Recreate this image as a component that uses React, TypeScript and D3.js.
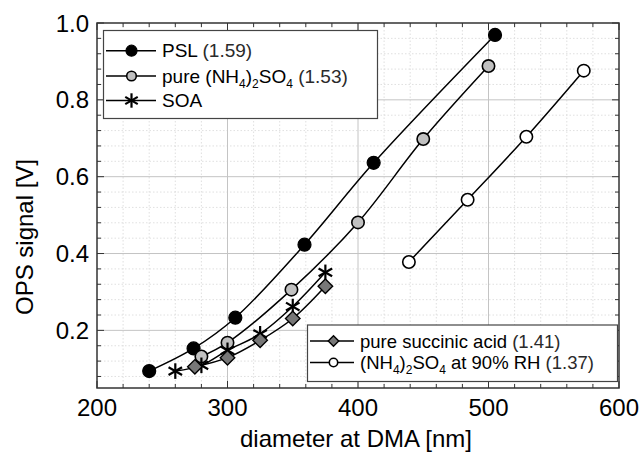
import React from "react";
import * as d3 from "d3";

const W = 641;
const H = 452;
const M = { left: 97, right: 619, top: 23, bottom: 388 };

const xDomain = [200, 600];
const yDomain = [0.05, 1.0];
const xMajorTicks = [200, 300, 400, 500, 600];
const yMajorTicks = [0.2, 0.4, 0.6, 0.8, 1.0];
const yTickLabels = ["0.2", "0.4", "0.6", "0.8", "1.0"];

const pslX = [240, 274, 306, 359, 412, 505];
const pslY = [0.094, 0.153, 0.233, 0.423, 0.636, 0.969];
const pureX = [280, 300, 349, 400, 450, 500];
const pureY = [0.132, 0.168, 0.306, 0.481, 0.698, 0.888];
const soaX = [260, 280, 300, 325, 350, 375];
const soaY = [0.094, 0.109, 0.148, 0.191, 0.262, 0.351];
const succX = [275, 300, 325, 350, 375];
const succY = [0.105, 0.129, 0.174, 0.231, 0.315];
const rhX = [439, 484, 529, 573];
const rhY = [0.378, 0.54, 0.704, 0.876];

const FONT = "'Liberation Sans', Arial, Helvetica, sans-serif";

type Seg = { t: string; sub?: boolean; light?: boolean };

function Label({ x, y, segs, size }: { x: number; y: number; segs: Seg[]; size: number }) {
  const out: any[] = [];
  let prevSub = false;
  segs.forEach((s, i) => {
    let dy = 0;
    if (s.sub && !prevSub) dy = 5;
    else if (!s.sub && prevSub) dy = -5;
    prevSub = !!s.sub;
    out.push(
      <tspan
        key={i}
        dy={dy}
        fontSize={s.sub ? 12 : size}
        fill={s.light ? "#2a2a2a" : "#000"}
      >
        {s.t}
      </tspan>
    );
  });
  return (
    <text x={x} y={y} fontFamily={FONT} fontSize={size} xmlSpace="preserve">
      {out}
    </text>
  );
}

function Marker({ kind, x, y, r }: { kind: string; x: number; y: number; r: number }) {
  if (kind === "psl") return <circle cx={x} cy={y} r={r} fill="#000" stroke="#000" strokeWidth={1.2} />;
  if (kind === "pure") return <circle cx={x} cy={y} r={r} fill="#c0c0c0" stroke="#000" strokeWidth={1.6} />;
  if (kind === "rh") return <circle cx={x} cy={y} r={r} fill="#fff" stroke="#000" strokeWidth={1.6} />;
  if (kind === "succ") {
    const s = r * 1.25;
    return (
      <path
        d={`M${x},${y - s}L${x + s},${y}L${x},${y + s}L${x - s},${y}Z`}
        fill="#777"
        stroke="#000"
        strokeWidth={1.4}
      />
    );
  }
  // asterisk
  const a = r * 1.2;
  const angs = [90, 30, -30];
  return (
    <g stroke="#000" strokeWidth={2.2}>
      {angs.map((g, i) => {
        const rad = (g * Math.PI) / 180;
        const dx = Math.cos(rad) * a;
        const dy = Math.sin(rad) * a;
        return <line key={i} x1={x - dx} y1={y - dy} x2={x + dx} y2={y + dy} />;
      })}
    </g>
  );
}

export default function App() {
  const x = d3.scaleLinear().domain(xDomain).range([M.left, M.right]);
  const y = d3.scaleLinear().domain(yDomain).range([M.bottom, M.top]);

  const xMinor = d3.range(220, 600, 20).filter((v) => v % 100 !== 0);
  const yMinor = d3.range(0.08, 0.999, 0.04).filter((v) => Math.abs(v * 5 - Math.round(v * 5)) > 0.01);

  const line = d3
    .line<[number, number]>()
    .x((d) => x(d[0]))
    .y((d) => y(d[1]))
    .curve(d3.curveCatmullRom.alpha(0.5));

  const series = [
    { kind: "psl", xs: pslX, ys: pslY, r: 6.5 },
    { kind: "pure", xs: pureX, ys: pureY, r: 6.2 },
    { kind: "soa", xs: soaX, ys: soaY, r: 6.5 },
    { kind: "succ", xs: succX, ys: succY, r: 5.8 },
    { kind: "rh", xs: rhX, ys: rhY, r: 6.2 },
  ];

  const legend1 = [
    { kind: "psl", r: 5.5, segs: [{ t: "PSL " }, { t: "(1.59)", light: true }] },
    {
      kind: "pure",
      r: 4.8,
      segs: [
        { t: "pure (NH" },
        { t: "4", sub: true },
        { t: ")" },
        { t: "2", sub: true },
        { t: "SO" },
        { t: "4", sub: true },
        { t: " (1.53)", light: true },
      ],
    },
    { kind: "soa", r: 6, segs: [{ t: "SOA" }] },
  ];
  const legend2 = [
    { kind: "succ", r: 4.2, segs: [{ t: "pure succinic acid " }, { t: "(1.41)", light: true }] },
    {
      kind: "rh",
      r: 4.2,
      segs: [
        { t: "(NH" },
        { t: "4", sub: true },
        { t: ")" },
        { t: "2", sub: true },
        { t: "SO" },
        { t: "4", sub: true },
        { t: " at 90% RH " },
        { t: "(1.37)", light: true },
      ],
    },
  ];

  const l1Rows = [50.7, 76, 100.5];
  const l2Rows = [341, 362.5];

  return (
    <div style={{ position: "absolute", left: 0, top: 0, background: "#fff" }}>
      <svg width={W} height={H} viewBox={`0 0 ${W} ${H}`} style={{ display: "block" }}>
        <rect x={0} y={0} width={W} height={H} fill="#fff" />
        {/* minor grid */}
        <g stroke="#d8d8d8" strokeWidth={0.8} strokeDasharray="1.5,2">
          {xMinor.map((v) => (
            <line key={"gx" + v} x1={x(v)} x2={x(v)} y1={M.top} y2={M.bottom} />
          ))}
          {yMinor.map((v) => (
            <line key={"gy" + v} x1={M.left} x2={M.right} y1={y(v)} y2={y(v)} />
          ))}
        </g>
        {/* major grid */}
        <g stroke="#c4c4c4" strokeWidth={1}>
          {xMajorTicks.slice(1, -1).map((v) => (
            <line key={"Gx" + v} x1={x(v)} x2={x(v)} y1={M.top} y2={M.bottom} />
          ))}
          {yMajorTicks.slice(0, -1).map((v) => (
            <line key={"Gy" + v} x1={M.left} x2={M.right} y1={y(v)} y2={y(v)} />
          ))}
        </g>
        {/* ticks */}
        <g stroke="#333" strokeWidth={1}>
          {xMajorTicks.map((v) => (
            <g key={"tx" + v}>
              <line x1={x(v)} x2={x(v)} y1={M.bottom} y2={M.bottom - 7} />
              <line x1={x(v)} x2={x(v)} y1={M.top} y2={M.top + 7} />
            </g>
          ))}
          {xMinor.map((v) => (
            <g key={"mx" + v}>
              <line x1={x(v)} x2={x(v)} y1={M.bottom} y2={M.bottom - 4} />
              <line x1={x(v)} x2={x(v)} y1={M.top} y2={M.top + 4} />
            </g>
          ))}
          {yMajorTicks.map((v) => (
            <g key={"ty" + v}>
              <line x1={M.left} x2={M.left + 7} y1={y(v)} y2={y(v)} />
              <line x1={M.right} x2={M.right - 7} y1={y(v)} y2={y(v)} />
            </g>
          ))}
          {yMinor.map((v) => (
            <g key={"my" + v}>
              <line x1={M.left} x2={M.left + 4} y1={y(v)} y2={y(v)} />
              <line x1={M.right} x2={M.right - 4} y1={y(v)} y2={y(v)} />
            </g>
          ))}
        </g>
        {/* series lines */}
        <g fill="none" stroke="#000" strokeWidth={1.5}>
          {series.map((s) => (
            <path key={"l" + s.kind} d={line(s.xs.map((v, i) => [v, s.ys[i]] as [number, number])) || ""} />
          ))}
        </g>
        {/* markers */}
        {series.map((s) => (
          <g key={"m" + s.kind}>
            {s.xs.map((v, i) => (
              <Marker key={i} kind={s.kind} x={x(v)} y={y(s.ys[i])} r={s.r} />
            ))}
          </g>
        ))}
        {/* frame */}
        <rect
          x={M.left}
          y={M.top}
          width={M.right - M.left}
          height={M.bottom - M.top}
          fill="none"
          stroke="#333"
          strokeWidth={1.5}
        />
        {/* tick labels */}
        <g fontFamily={FONT} fontSize={24} fill="#000">
          {xMajorTicks.map((v) => (
            <text key={"xl" + v} x={x(v)} y={M.bottom + 28} textAnchor="middle">
              {String(v)}
            </text>
          ))}
          {yMajorTicks.map((v, i) => (
            <text key={"yl" + v} x={M.left - 8} y={y(v)} dy="0.36em" textAnchor="end">
              {yTickLabels[i]}
            </text>
          ))}
        </g>
        {/* axis titles */}
        <text x={356} y={447} textAnchor="middle" fontFamily={FONT} fontSize={24}>
          diameter at DMA [nm]
        </text>
        <text
          transform={`translate(33,237) rotate(-90)`}
          textAnchor="middle"
          fontFamily={FONT}
          fontSize={24}
        >
          OPS signal [V]
        </text>
        {/* legend 1 */}
        <rect x={103.5} y={30.5} width={274} height={88} fill="#fff" stroke="#444" strokeWidth={1.2} />
        {legend1.map((e, i) => (
          <g key={"L1" + i}>
            <line x1={106} x2={156} y1={l1Rows[i]} y2={l1Rows[i]} stroke="#000" strokeWidth={1.5} />
            <Marker kind={e.kind} x={131.5} y={l1Rows[i]} r={e.r} />
            <Label x={162} y={l1Rows[i] + 6.5} segs={e.segs} size={19} />
          </g>
        ))}
        {/* legend 2 */}
        <rect x={307.5} y={325} width={310} height={56.5} fill="#fff" stroke="#444" strokeWidth={1.2} />
        {legend2.map((e, i) => (
          <g key={"L2" + i}>
            <line x1={310} x2={354} y1={l2Rows[i]} y2={l2Rows[i]} stroke="#000" strokeWidth={1.5} />
            <Marker kind={e.kind} x={333.5} y={l2Rows[i]} r={e.r} />
            <Label x={360} y={l2Rows[i] + 6.5} segs={e.segs} size={18.5} />
          </g>
        ))}
      </svg>
    </div>
  );
}
